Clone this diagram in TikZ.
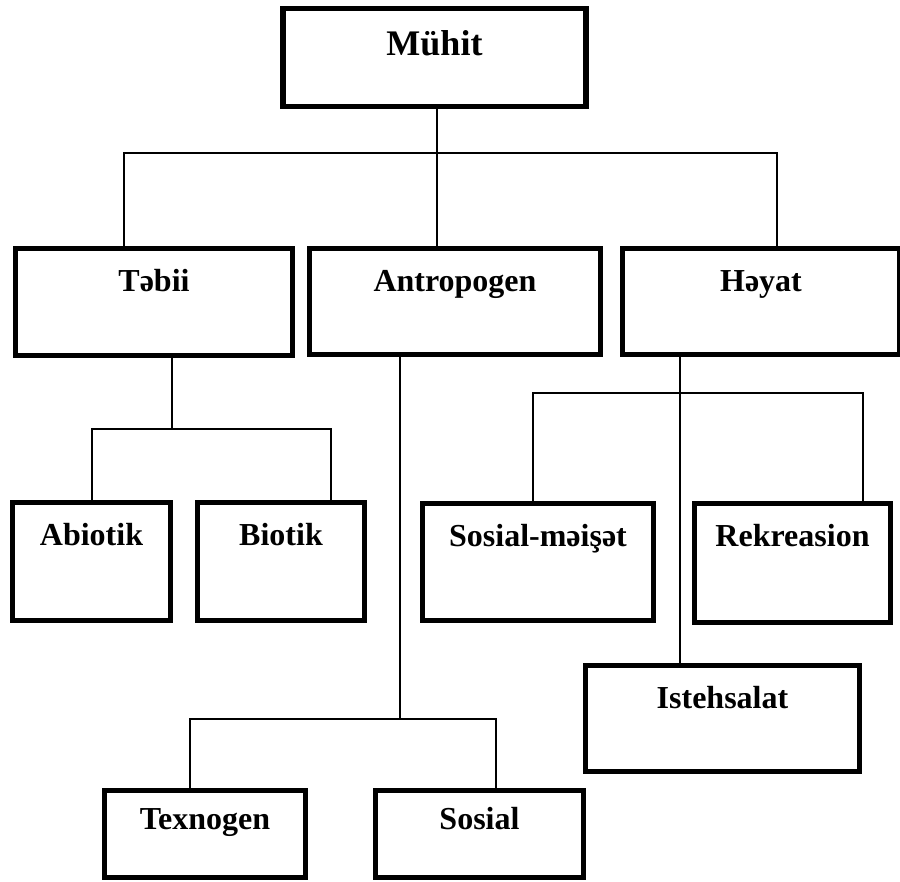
\documentclass[tikz,border=0pt]{standalone}
\usepackage{fontspec}
\setmainfont{Liberation Serif}
\begin{document}
\begin{tikzpicture}[x=0.75pt,y=-0.75pt,
  box/.style={draw=black, line width=3.9pt, rectangle, inner sep=0pt,
    fill=white, font=\fontsize{24}{28}\selectfont\bfseries, anchor=center},
  link/.style={draw=black, line width=1.5pt}]
\useasboundingbox[fill=white] (0,0) rectangle (900,882);

% junction points of the connector lines
\coordinate (tL) at (124,153);
\coordinate (tM) at (437,153);
\coordinate (tR) at (777,153);
\coordinate (aL) at (92,429);
\coordinate (aM) at (172,429);
\coordinate (aR) at (331,429);
\coordinate (bL) at (190,719);
\coordinate (bM) at (400,719);
\coordinate (bR) at (496,719);
\coordinate (cL) at (533,393);
\coordinate (cM) at (680,393);
\coordinate (cR) at (863,393);

% boxes
\node[box, font=\fontsize{27}{31}\selectfont\bfseries, minimum width=227.25pt, minimum height=73.5pt,
  text height=35.6pt, text depth=37.9pt] (muhit) at (434.5,57.5) {Mühit};
\node[box, minimum width=207.75pt, minimum height=80.25pt,
  text height=32.3pt, text depth=47.95pt] (tebii) at (154,302) {Təbii};
\node[box, minimum width=218.25pt, minimum height=79.5pt,
  text height=32.3pt, text depth=47.2pt] (antropogen) at (455,301.5) {Antropogen};
\node[box, minimum width=207.75pt, minimum height=79.5pt,
  text height=32.3pt, text depth=47.2pt] (heyat) at (761,301.5) {Həyat};
\node[box, minimum width=118.5pt, minimum height=88.5pt,
  text height=32.3pt, text depth=56.2pt] (abiotik) at (91.5,561.5) {Abiotik};
\node[box, minimum width=125.25pt, minimum height=88.5pt,
  text height=32.3pt, text depth=56.2pt] (biotik) at (281,561.5) {Biotik};
\node[box, minimum width=173.25pt, minimum height=87.75pt,
  text height=32.3pt, text depth=55.45pt] (sosialmeiset) at (538,562) {Sosial-məişət};
\node[box, minimum width=147pt, minimum height=89.25pt,
  text height=32.3pt, text depth=56.95pt] (rekreasion) at (792.5,563) {Rekreasion};
\node[box, minimum width=205.5pt, minimum height=79.5pt,
  text height=32.3pt, text depth=47.2pt] (istehsalat) at (722.5,718.5) {Istehsalat};
\node[box, minimum width=150.75pt, minimum height=65.25pt,
  text height=29.3pt, text depth=35.95pt] (texnogen) at (205,834) {Texnogen};
\node[box, minimum width=156pt, minimum height=65.25pt,
  text height=29.3pt, text depth=35.95pt] (sosial) at (479.5,834) {Sosial};

% Mühit -> Təbii, Antropogen, Həyat
\draw[link] (muhit.south -| tM) -- (antropogen.north -| tM);
\draw[link] (tebii.north -| tL) -- (tL) -- (tR) -- (heyat.north -| tR);

% Təbii -> Abiotik, Biotik
\draw[link] (tebii.south -| aM) -- (aM);
\draw[link] (abiotik.north -| aL) -- (aL) -- (aR) -- (biotik.north -| aR);

% Antropogen -> Texnogen, Sosial
\draw[link] (antropogen.south -| bM) -- (bM);
\draw[link] (texnogen.north -| bL) -- (bL) -- (bR) -- (sosial.north -| bR);

% Həyat -> Sosial-məişət, Rekreasion, Istehsalat
\draw[link] (heyat.south -| cM) -- (istehsalat.north -| cM);
\draw[link] (sosialmeiset.north -| cL) -- (cL) -- (cR) -- (rekreasion.north -| cR);
\end{tikzpicture}
\end{document}
